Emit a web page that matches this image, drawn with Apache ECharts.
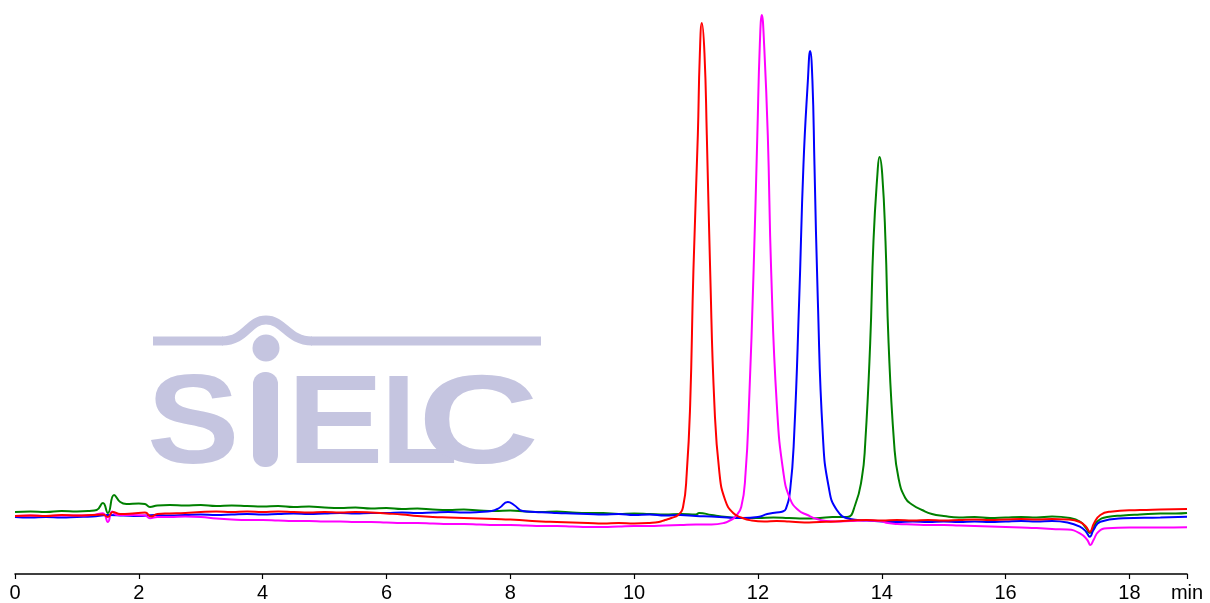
<!DOCTYPE html>
<html>
<head>
<meta charset="utf-8">
<script src="https://cdn.jsdelivr.net/npm/echarts@6/dist/echarts.min.js"></script>
<style>
  html, body { margin: 0; padding: 0; background: #fff; }
  #chart { width: 1210px; height: 603px; }
</style>
</head>
<body>
<div id="chart"></div>
<script>
// time in min, detector signal (arbitrary units, baseline ~0)
var xTicks = [0, 2, 4, 6, 8, 10, 12, 14, 16, 18];
var runEnd = 18.93;
var unitLabel = 'min';

var greenTrace = [
  [0, 3], [0.25, 3.5], [0.5, 3], [0.75, 4], [1.0, 3.5], [1.2, 4], [1.32, 5], [1.42, 12], [1.5, 2],
  [1.6, 20], [1.7, 13], [1.8, 11], [2.0, 11.5], [2.1, 11], [2.18, 8], [2.3, 9.5], [2.5, 10],
  [2.75, 9.5], [3.0, 10], [3.25, 9], [3.5, 9.5], [3.75, 9], [4.0, 8.5], [4.25, 9], [4.5, 8],
  [4.75, 8.5], [5.0, 7.5], [5.25, 7], [5.5, 7.5], [5.75, 6.5], [6.0, 7], [6.25, 6], [6.5, 6.5],
  [6.75, 5.5], [7.0, 5], [7.25, 5.5], [7.5, 4.5], [7.75, 4], [8.0, 4.5], [8.25, 3.5], [8.5, 3],
  [8.75, 3.5], [9.0, 2.5], [9.25, 2], [9.5, 2], [9.75, 1], [10.0, 1.5], [10.25, 1], [10.5, 0.5],
  [10.75, 1], [11.0, 0.5], [11.05, 2], [11.25, 0], [11.5, -2], [11.75, -3], [12.0, -3],
  [12.25, -2.5], [12.5, -3], [12.75, -3.5], [13.0, -3], [13.2, -2], [13.44, -2], [13.57, 10],
  [13.678, 37], [13.732, 71], [13.813, 172], [13.866, 274], [13.93, 341], [13.963, 358],
  [14.007, 341], [14.06, 274], [14.11, 172], [14.2, 71], [14.27, 37], [14.38, 17], [14.5, 10],
  [14.65, 5], [14.81, 1], [15.0, -1], [15.25, -2.5], [15.5, -2], [15.75, -3], [16.0, -2.5],
  [16.25, -2], [16.5, -2.5], [16.75, -1.5], [17.04, -3], [17.2, -6.5], [17.3, -13], [17.36, -18],
  [17.42, -13], [17.48, -6.5], [17.64, -2], [17.9, -0.5], [18.17, 0.5], [18.5, 1.5], [18.75, 1.5],
  [18.93, 2]
];

var blueTrace = [
  [0, -2], [0.25, -2.5], [0.5, -2], [0.75, -2.5], [1.0, -2], [1.25, -1.5], [1.5, 0], [1.75, -0.5],
  [2.0, -1], [2.25, 0], [2.5, -0.5], [2.75, 0], [3.0, 0.5], [3.25, 0], [3.5, 0.5], [3.75, 1],
  [4.0, 0.5], [4.25, 1], [4.5, 1.5], [4.75, 1], [5.0, 1.5], [5.25, 2], [5.5, 1.5], [5.75, 2],
  [6.0, 2], [6.25, 2.5], [6.5, 2], [6.75, 2.5], [7.0, 3], [7.25, 2.5], [7.5, 3], [7.7, 4],
  [7.82, 7], [7.96, 13], [8.06, 10], [8.2, 4], [8.4, 3], [8.6, 2.5], [8.75, 2], [9.0, 1.5],
  [9.25, 1], [9.5, 0.5], [9.75, 1], [10.0, 0], [10.25, 0.5], [10.5, -0.5], [10.75, 0], [11.0, -1],
  [11.25, -1.5], [11.5, -2.5], [11.75, -3], [12.0, -2], [12.15, 1], [12.3, 2.5], [12.4, 3.5],
  [12.45, 6], [12.52, 25], [12.585, 80], [12.666, 215], [12.735, 350], [12.806, 434],
  [12.843, 464], [12.88, 434], [12.913, 350], [12.967, 215], [13.048, 80], [13.14, 29],
  [13.274, 5], [13.49, -4], [13.75, -5.5], [14.0, -6.5], [14.25, -7], [14.5, -6.5], [14.75, -7],
  [15.0, -6.5], [15.25, -7], [15.5, -6.5], [15.75, -7], [16.0, -6.5], [16.25, -6], [16.5, -6.5],
  [16.75, -6], [17.0, -7.5], [17.2, -11.7], [17.3, -16.7], [17.36, -21.7], [17.42, -15],
  [17.53, -6.7], [17.9, -3.3], [18.5, -2.5], [18.93, -1.7]
];

var magentaTrace = [
  [0, -1], [0.25, -0.5], [0.5, -1], [0.75, -0.5], [1.0, -0.5], [1.25, 0], [1.42, 1.7], [1.5, -7],
  [1.57, 3.5], [1.65, 0], [1.9, 0], [2.1, -0.5], [2.18, -3.3], [2.3, -2], [2.5, -2], [2.75, -1.5],
  [3.0, -2], [3.25, -3.5], [3.5, -4.5], [3.75, -5], [4.0, -5], [4.25, -5.5], [4.5, -6], [4.75, -6],
  [5.0, -6.5], [5.25, -6.5], [5.5, -7], [5.75, -7], [6.0, -7.5], [6.25, -8], [6.5, -8], [6.75, -8.5],
  [7.0, -9], [7.25, -9], [7.5, -9.5], [7.75, -10], [8.0, -10], [8.25, -10.5], [8.5, -11],
  [8.75, -11], [9.0, -11.5], [9.25, -12], [9.5, -12], [9.75, -11.5], [10.0, -11], [10.25, -11],
  [10.5, -10.5], [10.75, -10], [11.0, -9.5], [11.25, -9.5], [11.45, -8], [11.56, -5], [11.63, -2],
  [11.73, 8], [11.8, 42], [11.855, 110], [11.93, 245], [11.99, 380], [12.03, 470], [12.063, 500],
  [12.1, 470], [12.159, 380], [12.213, 245], [12.305, 110], [12.412, 42], [12.52, 16], [12.65, 5],
  [12.8, 0], [12.95, -4], [13.1, -6], [13.25, -6.5], [13.5, -6], [13.75, -5.5], [13.97, -6],
  [14.1, -8], [14.25, -9], [14.5, -9.5], [14.75, -10], [15.0, -10], [15.25, -10.5], [15.5, -11],
  [15.75, -11.5], [16.0, -12], [16.25, -12.5], [16.5, -13], [16.75, -14], [17.0, -14.5],
  [17.2, -18.3], [17.32, -25], [17.37, -30], [17.42, -25], [17.5, -16.7], [17.64, -13.3],
  [18.0, -12.5], [18.5, -12.5], [18.93, -12.3]
];

var redTrace = [
  [0, -1], [0.25, -0.5], [0.5, -1], [0.75, 0], [1.0, -0.5], [1.25, 0], [1.42, 0.5], [1.5, -2],
  [1.58, 3], [1.7, 1], [1.9, 1.5], [2.1, 2.5], [2.2, -1.5], [2.3, 1], [2.5, 1.5], [2.75, 2],
  [3.0, 3], [3.25, 3.5], [3.5, 3], [3.75, 3.5], [4.0, 3], [4.25, 3.5], [4.5, 3], [4.75, 2.5],
  [5.0, 3], [5.25, 2.5], [5.5, 3], [5.75, 2.5], [6.0, 1.5], [6.25, 0.5], [6.5, -1], [6.75, -2],
  [7.0, -2.5], [7.25, -3], [7.5, -3.5], [7.75, -4], [8.0, -4.5], [8.25, -5.5], [8.5, -6.5],
  [8.75, -7], [9.0, -7.5], [9.25, -8], [9.5, -8.5], [9.75, -8], [10.0, -8.5], [10.25, -8],
  [10.4, -7], [10.5, -5], [10.6, -3], [10.71, 0], [10.79, 8], [10.85, 42], [10.905, 110],
  [10.958, 245], [11.029, 380], [11.061, 460], [11.094, 492], [11.136, 462], [11.174, 380],
  [11.228, 245], [11.297, 110], [11.378, 42], [11.47, 15], [11.6, 2], [11.75, -3], [11.9, -5.5],
  [12.1, -6.5], [12.3, -6], [12.5, -6.5], [12.75, -7.5], [13.0, -7], [13.25, -6.5], [13.5, -5.5],
  [13.75, -5], [14.0, -5.5], [14.25, -5], [14.5, -5.5], [14.75, -5], [15.0, -5.5], [15.25, -5],
  [15.5, -4.5], [15.75, -5], [16.0, -4.5], [16.25, -4], [16.5, -4.5], [16.75, -4], [17.0, -4.5],
  [17.2, -7], [17.3, -11.7], [17.36, -16.7], [17.43, -8], [17.53, 0], [17.69, 3.3], [18.17, 5],
  [18.5, 5.5], [18.93, 6]
];

var traces = [
  { name: 'green', color: '#008000', data: greenTrace },
  { name: 'blue', color: '#0000ff', data: blueTrace },
  { name: 'magenta', color: '#ff00ff', data: magentaTrace },
  { name: 'red', color: '#ff0000', data: redTrace }
];

var logoColor = '#c5c5e0';
var logoFont = 'bold 126px "Liberation Sans", Arial, sans-serif';
var logoLine = { fill: null, stroke: logoColor, lineWidth: 9 };

function logoLetter(ch, x, sx) {
  return {
    type: 'text', silent: true, z: 0, x: x, y: 428, scaleX: sx,
    style: { x: 0, y: 0, text: ch, font: logoFont, fill: logoColor, verticalAlign: 'middle' }
  };
}

var chart = echarts.init(document.getElementById('chart'));

var option = {
  animation: false,
  backgroundColor: '#ffffff',
  grid: { left: 15, right: 23, top: 10, bottom: 29, containLabel: false },
  xAxis: {
    type: 'value',
    min: 0,
    max: runEnd,
    interval: 2,
    splitLine: { show: false },
    axisLine: { onZero: false, lineStyle: { color: '#000', width: 1.5 } },
    axisTick: { length: 5, lineStyle: { color: '#000', width: 1.2 } },
    axisLabel: {
      color: '#000',
      fontFamily: 'Liberation Sans, Arial, sans-serif',
      fontSize: 20,
      margin: 9,
      showMaxLabel: true,
      formatter: function (v) {
        return xTicks.indexOf(v) >= 0 ? String(v) : unitLabel;
      }
    }
  },
  yAxis: {
    type: 'value',
    min: -59,
    max: 505,
    show: false
  },
  graphic: [
    // SIELC watermark
    { type: 'line', silent: true, z: 0, shape: { x1: 153, y1: 341, x2: 223, y2: 341 }, style: logoLine },
    { type: 'bezierCurve', silent: true, z: 0, shape: { x1: 222, y1: 341, x2: 266, y2: 320, cpx1: 246, cpy1: 341, cpx2: 248, cpy2: 320 }, style: logoLine },
    { type: 'bezierCurve', silent: true, z: 0, shape: { x1: 266, y1: 320, x2: 312, y2: 341, cpx1: 284, cpy1: 320, cpx2: 288, cpy2: 341 }, style: logoLine },
    { type: 'line', silent: true, z: 0, shape: { x1: 311, y1: 341, x2: 541, y2: 341 }, style: logoLine },
    { type: 'circle', silent: true, z: 0, shape: { cx: 266, cy: 348, r: 13.5 }, style: { fill: logoColor } },
    { type: 'rect', silent: true, z: 0, shape: { x: 253, y: 372, width: 25, height: 95, r: 12 }, style: { fill: logoColor } },
    logoLetter('S', 147, 1.1),
    logoLetter('E', 287, 1.15),
    logoLetter('L', 381, 1.0),
    logoLetter('C', 418, 1.33)
  ],
  series: traces.map(function (t) {
    return {
      name: t.name,
      type: 'line',
      data: t.data,
      showSymbol: false,
      smooth: 0.5,
      lineStyle: { color: t.color, width: 2 },
      itemStyle: { color: t.color },
      z: 2
    };
  })
};

chart.setOption(option);
</script>
</body>
</html>
